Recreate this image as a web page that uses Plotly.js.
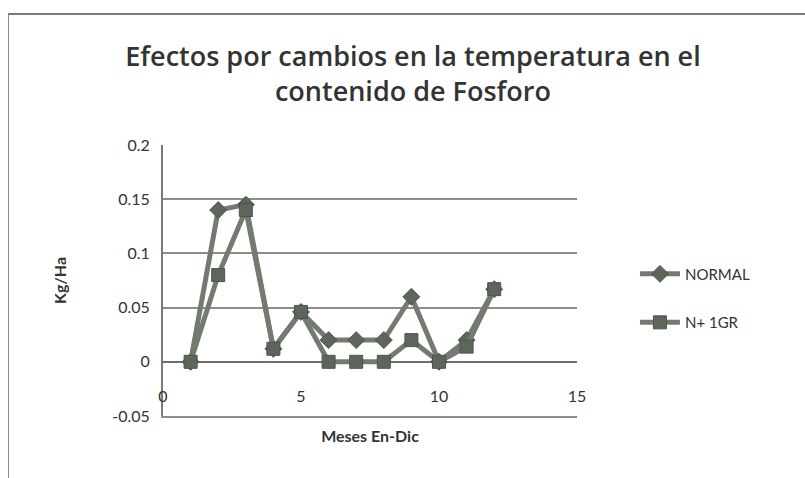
<!DOCTYPE html>
<html><head><meta charset="utf-8">
<script src="https://cdn.plot.ly/plotly-3.0.1.min.js"></script>
<style>
html,body{margin:0;padding:0;background:#fff;}
#frame{position:absolute;left:8px;top:13px;width:820px;height:500px;border-top:2px solid #7a7a7a;border-left:1px solid #8a8a8a;box-sizing:border-box;}
#chart{position:absolute;left:0;top:0;width:805px;height:478px;}
</style></head>
<body>
<div id="chart"></div>
<div id="frame"></div>
<script>
const months = [1,2,3,4,5,6,7,8,9,10,11,12];
const normal = [0,0.14,0.145,0.012,0.046,0.02,0.02,0.02,0.06,0,0.02,0.067];
const n1gr = [0,0.08,0.14,0.012,0.046,0,0,0,0.02,0,0.014,0.067];
const seriesNames = ['NORMAL','N+ 1GR'];
const xTicks = [0,5,10,15];
const yTicks = [-0.05,0,0.05,0.1,0.15,0.2];
const yTickText = ['-0.05','0','0.05','0.1','0.15','0.2'];

const lineCol = '#737b70';
const markCol = '#5e665b';
const traces = [
  {x: months, y: normal, name: seriesNames[0], legendgroup:'a', mode:'lines+markers',
   line:{color:lineCol,width:5}, marker:{symbol:'diamond',size:13,color:markCol,line:{color:'#4d544b',width:1}}},
  {x: months, y: n1gr, name: seriesNames[1], legendgroup:'b', mode:'lines+markers',
   line:{color:lineCol,width:5}, marker:{symbol:'square',size:13,color:markCol,line:{color:'#4d544b',width:1}}}
];
const font = 'Lato, "Open Sans", sans-serif';
const layout = {
  width:805, height:478,
  margin:{l:163,r:228,t:145,b:62},
  paper_bgcolor:'rgba(0,0,0,0)', plot_bgcolor:'#fff',
  showlegend:true,
  title:{text:'Efectos por cambios en la temperatura en el<br>contenido de Fosforo', x:0.513, xanchor:'center', y:0.862, yanchor:'middle',
    font:{family:'"Open Sans", sans-serif',size:27,weight:600,color:'#333'}},
  font:{family:font,color:'#333'},
  xaxis:{range:[0,15], tickvals:xTicks, ticktext:xTicks.map(String), showgrid:false, zeroline:false,
    showline:true, linecolor:'#8c8c8c', linewidth:2, ticks:'', ticklabelposition:'inside', ticklabelstandoff:11, ticklabeloverflow:'allow',
    tickfont:{size:16,color:'#333'},
    title:{text:'<b>Meses En-Dic</b>', font:{size:16,color:'#333'}, standoff:27}},
  yaxis:{range:[-0.05,0.2], tickvals:yTicks, ticktext:yTickText, showgrid:true, gridcolor:'#8c8c8c', gridwidth:2,
    zeroline:true, zerolinecolor:'#6e6e6e', zerolinewidth:2, showline:true, linecolor:'#7a7a7a', linewidth:2,
    ticks:'', tickfont:{size:16,color:'#333'}, ticklabelstandoff:8,
    title:{text:'<b>Kg/Ha</b>', font:{size:16,color:'#333'}, standoff:42}},
  legend:{x:1.14, xanchor:'left', y:0.435, yanchor:'middle', font:{size:15,color:'#333',family:font},
    bgcolor:'rgba(0,0,0,0)', tracegroupgap:26, itemwidth:40}
};
Plotly.newPlot('chart', traces, layout, {displayModeBar:false, staticPlot:true});
</script>
</body></html>
